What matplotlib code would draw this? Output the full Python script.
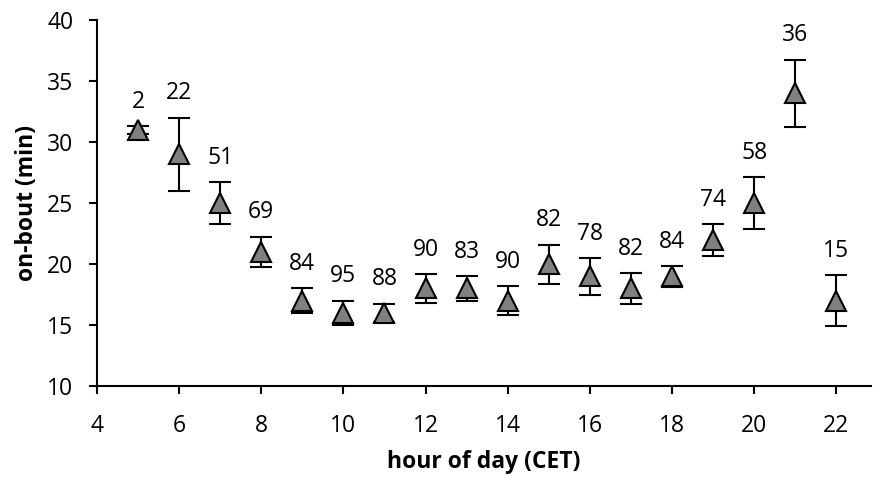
import matplotlib
matplotlib.use("Agg")
import matplotlib.pyplot as plt

# data
hours = [5, 6, 7, 8, 9, 10, 11, 12, 13, 14, 15, 16, 17, 18, 19, 20, 21, 22]
on_bout = [31, 29, 25, 21, 17, 16, 16, 18, 18, 17, 20, 19, 18, 19, 22, 25, 34, 17]
err = [0.3, 3.0, 1.7, 1.25, 1.0, 1.0, 0.75, 1.2, 1.0, 1.2, 1.6, 1.5, 1.25, 0.85, 1.3, 2.1, 2.75, 2.1]
n_labels = ["2", "22", "51", "69", "84", "95", "88", "90", "83", "90",
            "82", "78", "82", "84", "74", "58", "36", "15"]

plt.rcParams['font.family'] = ['Open Sans', 'DejaVu Sans']
fs = 16.5

fig = plt.figure(figsize=(8.73, 4.79), dpi=100)
ax = fig.add_axes([0.111, 0.194, 0.887, 0.764])

ax.errorbar(hours, on_bout, yerr=err, fmt='^', color='black', ecolor='black',
            elinewidth=1.5, capsize=8, capthick=1.5, markersize=14,
            markerfacecolor='#808080', markeredgecolor='black', markeredgewidth=1.5,
            zorder=3)

for h, v, e, t in zip(hours, on_bout, err, n_labels):
    ax.annotate(t, (h, v + e), xytext=(0, 17.5), textcoords='offset points',
                ha='center', va='center', fontsize=fs)

ax.set_xlim(4, 22.85)
ax.set_ylim(10, 40)
ax.set_xticks(range(4, 23, 2))
ax.set_yticks(range(10, 41, 5))

for s in ['top', 'right']:
    ax.spines[s].set_visible(False)
for s in ['left', 'bottom']:
    ax.spines[s].set_linewidth(1.5)

ax.tick_params(axis='both', direction='out', length=6, width=1.5, labelsize=fs)
ax.tick_params(axis='y', pad=11)
ax.tick_params(axis='x', pad=14)

ax.set_xlabel('hour of day (CET)', fontsize=fs, fontweight='bold', labelpad=9)
ax.set_ylabel('on-bout (min)', fontsize=fs, fontweight='bold', labelpad=6)

fig.savefig('out.png', dpi=100)
